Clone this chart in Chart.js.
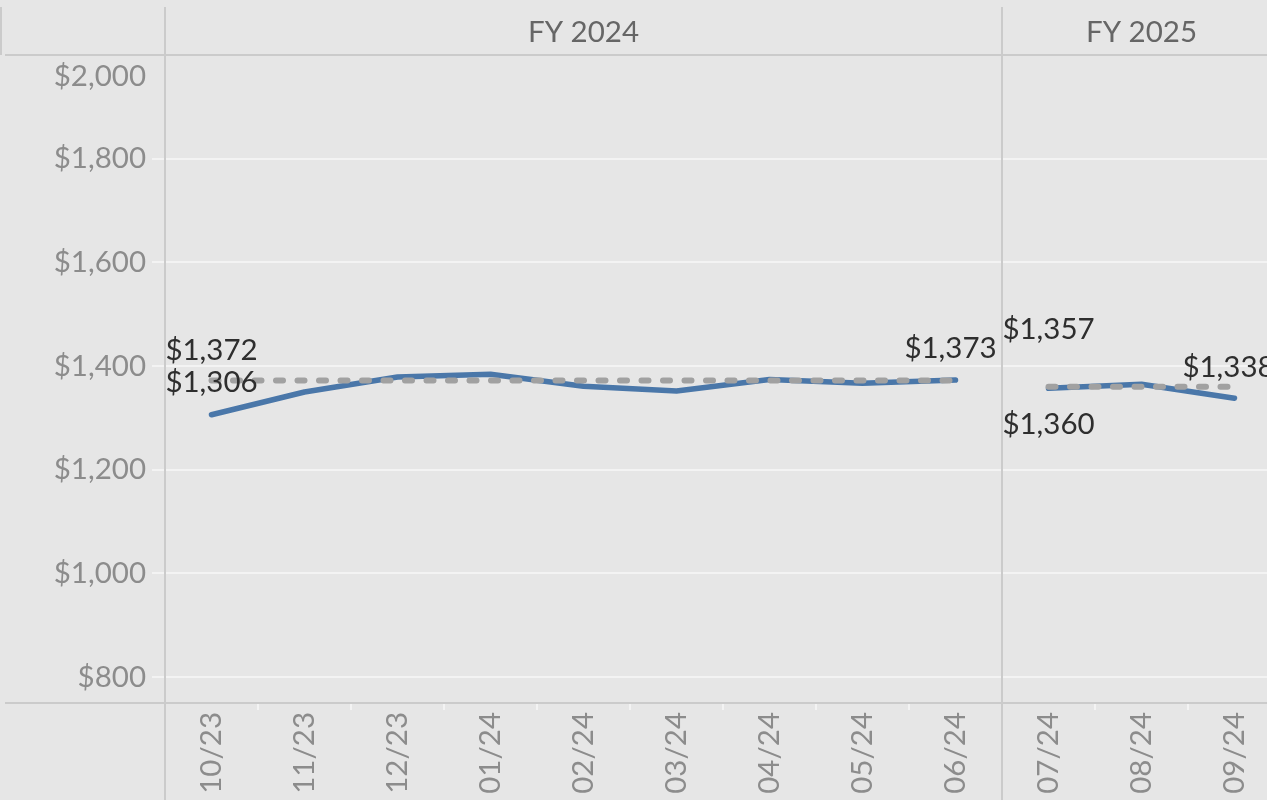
<!DOCTYPE html>
<html>
<head>
<meta charset="utf-8">
<script src="https://cdn.jsdelivr.net/npm/chart.js@4.4.1/dist/chart.umd.min.js"></script>
<style>
  html, body { margin: 0; padding: 0; overflow: hidden; background: #e6e6e6; }
  #wrap { position: absolute; left: 0; top: 0; width: 1290px; height: 800px; }
</style>
</head>
<body>
<div id="wrap"><canvas id="grafico" width="1290" height="800"></canvas></div>
<script>
// data
const meses = ['10/23', '11/23', '12/23', '01/24', '02/24', '03/24', '04/24', '05/24', '06/24', '07/24', '08/24', '09/24'];
const anoFiscal = ['FY 2024', 'FY 2024', 'FY 2024', 'FY 2024', 'FY 2024', 'FY 2024', 'FY 2024', 'FY 2024', 'FY 2024', 'FY 2025', 'FY 2025', 'FY 2025'];
const precoMedio = [1306, 1350, 1379, 1384, 1361, 1352, 1374, 1367, 1373, 1357, 1365, 1338];
const anosRef = ['FY 2024', 'FY 2025'];
const mediaRef = [1372, 1360];
const yTicks = [800, 1000, 1200, 1400, 1600, 1800, 2000];

// which values get a text label (serie: 'preco' = blue line, 'ref' = dashed line)
const rotulos = [
  { serie: 'ref', idx: 0, dy: -30 },
  { serie: 'preco', idx: 0, dy: -32 },
  { serie: 'preco', idx: 8, dy: -32, dx: -5 },
  { serie: 'preco', idx: 9, dy: -59 },
  { serie: 'ref', idx: 9, dy: 38 },
  { serie: 'preco', idx: 11, dy: -31, dx: -6 }
];

const fonte = 'Lato, "Open Sans", sans-serif';
const tamFonte = 29.5;
const fmt = v => '$' + v.toLocaleString('en-US');

function valorRef(i) {
  return mediaRef[anosRef.indexOf(anoFiscal[i])];
}

function porAno(ano, fn) {
  return meses.map((m, i) => anoFiscal[i] === ano ? fn(i) : null);
}

const datasets = [];
// dashed reference lines first so they sit on top of the blue line
anosRef.forEach(ano => {
  datasets.push({
    data: porAno(ano, valorRef),
    borderColor: '#a1a1a1',
    borderWidth: 6,
    borderDash: [7, 14.5],
    borderCapStyle: 'round',
    pointRadius: 0,
    tension: 0,
    fill: false
  });
});
anosRef.forEach(ano => {
  datasets.push({
    data: porAno(ano, i => precoMedio[i]),
    borderColor: '#4a77a9',
    borderWidth: 5.5,
    borderCapStyle: 'round',
    borderJoinStyle: 'round',
    pointRadius: 0,
    tension: 0,
    fill: false
  });
});

const moldura = {
  id: 'moldura',
  beforeDraw(chart) {
    const ctx = chart.ctx;
    ctx.save();
    ctx.fillStyle = '#e6e6e6';
    ctx.fillRect(0, 0, chart.width, chart.height);
    ctx.restore();
  },
  beforeDatasetsDraw(chart) {
    const { ctx, chartArea, scales } = chart;
    const x = scales.x;
    const meia = x.width / meses.length / 2;
    ctx.save();
    ctx.strokeStyle = '#cbcbcb';
    ctx.lineWidth = 2;
    ctx.beginPath();
    ctx.moveTo(5, chartArea.top); ctx.lineTo(chart.width, chartArea.top);
    ctx.moveTo(5, chartArea.bottom); ctx.lineTo(chart.width, chartArea.bottom);
    ctx.moveTo(chartArea.left, 7); ctx.lineTo(chartArea.left, chart.height);
    ctx.moveTo(1, 7); ctx.lineTo(1, chartArea.top);
    // pane separators between fiscal years
    for (let i = 1; i < meses.length; i++) {
      if (anoFiscal[i] !== anoFiscal[i - 1]) {
        const px = Math.round(x.getPixelForValue(i) - meia);
        ctx.moveTo(px, 7); ctx.lineTo(px, chart.height);
      }
    }
    ctx.stroke();

    // header with fiscal years
    ctx.fillStyle = '#666666';
    ctx.font = tamFonte + 'px ' + fonte;
    ctx.textAlign = 'center';
    ctx.textBaseline = 'middle';
    anosRef.forEach(ano => {
      const i0 = anoFiscal.indexOf(ano);
      const i1 = anoFiscal.lastIndexOf(ano);
      const cx = (x.getPixelForValue(i0) - meia + x.getPixelForValue(i1) + meia) / 2;
      ctx.fillText(ano, cx, 32);
    });
    ctx.restore();
  },
  afterDatasetsDraw(chart) {
    const { ctx, scales } = chart;
    ctx.save();
    ctx.fillStyle = '#2e2e2e';
    ctx.font = tamFonte + 'px ' + fonte;
    ctx.textAlign = 'center';
    ctx.textBaseline = 'middle';
    rotulos.forEach(r => {
      const v = r.serie === 'ref' ? valorRef(r.idx) : precoMedio[r.idx];
      const px = scales.x.getPixelForValue(r.idx) + (r.dx || 0);
      const py = scales.y.getPixelForValue(v) + r.dy;
      ctx.fillText(fmt(v), px, py);
    });
    ctx.restore();
  }
};

new Chart(document.getElementById('grafico'), {
  type: 'line',
  data: { labels: meses, datasets: datasets },
  options: {
    responsive: false,
    animation: false,
    devicePixelRatio: 1,
    layout: { padding: { top: 55, right: 9, left: 0, bottom: 0 } },
    plugins: { legend: { display: false }, tooltip: { enabled: false } },
    scales: {
      x: {
        type: 'category',
        offset: true,
        afterFit: s => { s.height = 97; },
        border: { display: false },
        grid: { display: true, drawOnChartArea: false, offset: true, tickLength: 7, color: '#f3f3f3', lineWidth: 2 },
        ticks: {
          autoSkip: false,
          minRotation: 90,
          maxRotation: 90,
          padding: 2,
          color: '#8c8c8c',
          font: { family: fonte, size: tamFonte }
        }
      },
      y: {
        min: 750,
        max: 2000,
        afterFit: s => { s.width = 165; },
        afterBuildTicks: s => { s.ticks = yTicks.map(v => ({ value: v })); },
        border: { display: false },
        grid: { color: '#f3f3f3', lineWidth: 2, tickLength: 13 },
        ticks: {
          padding: 6,
          color: '#8c8c8c',
          font: { family: fonte, size: tamFonte, lineHeight: 1.45 },
          callback: v => v === 2000 ? ['', fmt(v)] : fmt(v)
        }
      }
    }
  },
  plugins: [moldura]
});
</script>
</body>
</html>
